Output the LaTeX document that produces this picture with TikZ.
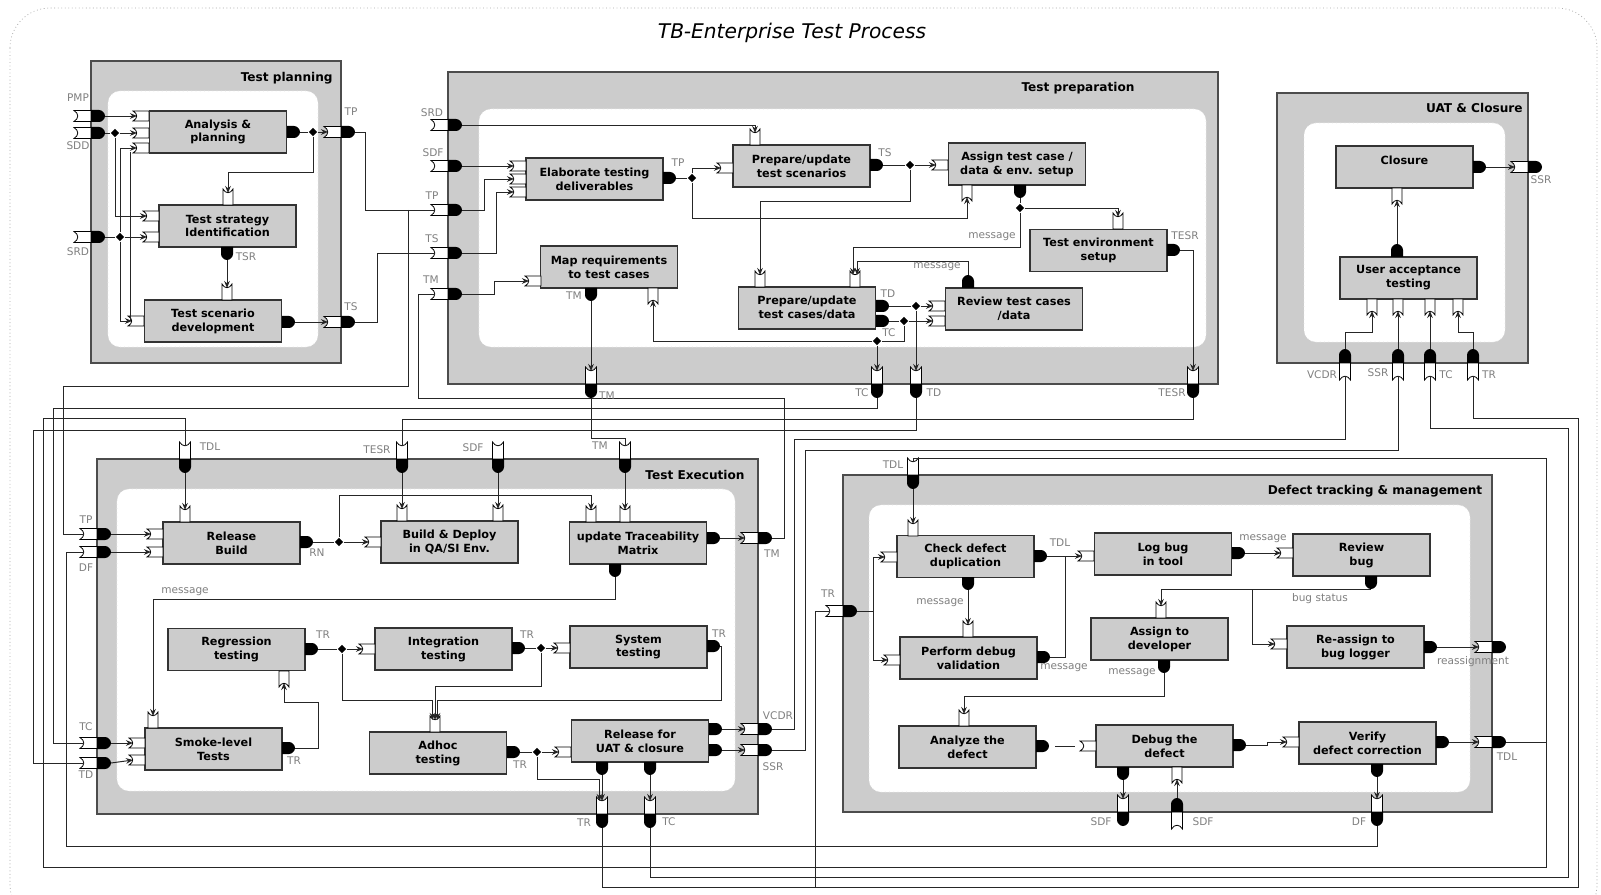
\documentclass[tikz,border=0pt]{standalone}
\usepackage{fontspec}
\setmainfont{DejaVu Sans}
\usepackage{xcolor}
\usepackage{tikz}
\usetikzlibrary{arrows.meta,shapes.geometric,calc}

\begin{document}
\begin{tikzpicture}[
  x=0.2mm, y=-0.2mm,
  box/.style={draw=black!80, line width=0.75pt, fill=black!20, align=center, minimum width=27.4mm, minimum height=8.4mm, inner sep=1pt, font=\fontsize{6.4}{7.9}\selectfont\bfseries},
  stage/.style={draw=black!70, line width=0.6pt, fill=black!20, inner sep=0pt, outer sep=0pt},
  pane/.style={draw=black!10, dotted, fill=white, rounded corners=2.4mm, inner sep=0pt, outer sep=0pt},
  stitle/.style={font=\fontsize{6.9}{8}\selectfont\bfseries, inner sep=0pt},
  lbl/.style={font=\fontsize{6}{7}\selectfont, text=black!50, inner sep=0pt},
  wire/.style={draw=black!85, line width=0.55pt},
  arrow/.style={wire, -{Stealth[length=4pt, width=3.2pt]}},
  dot/.style={diamond, fill=black, inner sep=0pt, minimum size=1.7mm},
  inport/.pic={
    \path[draw=black, fill=white, line width=0.45pt] (-16,-5) -- (0,-5) -- (0,5) -- (-16,5) .. controls (-11,2.5) and (-11,-2.5) .. (-16,-5) -- cycle;
    \coordinate (-tip) at (-12,0);
  },
  outport/.pic={
    \path[fill=black] (0,-6) -- (7,-6) .. controls (10,-6) and (13,-3) .. (13,0) .. controls (13,3) and (10,6) .. (7,6) -- (0,6) -- cycle;
    \coordinate (-end) at (13,0);
  },
  relay/.pic={
    \path[draw=black, fill=white, line width=0.45pt] (-17,-5.5) -- (0,-5.5) -- (0,5.5) -- (-17,5.5) .. controls (-12,2.5) and (-12,-2.5) .. (-17,-5.5) -- cycle;
    \path[fill=black] (0,-6) -- (8,-6) .. controls (11,-6) and (14,-3) .. (14,0) .. controls (14,3) and (11,6) .. (8,6) -- (0,6) -- cycle;
    \coordinate (-in) at (-13,0);
    \coordinate (-out) at (14,0);
  }
]
\useasboundingbox (0,0) rectangle (1601,895);

% Frame and title
\begin{scope}
  \clip (0,0) rectangle (1601,895);
  \draw[black!35, dash pattern=on 0.5pt off 1.5pt, rounded corners=8mm] (10,8) rectangle (1597,925);
\end{scope}
\node[font=\fontsize{11.5}{13}\selectfont\itshape] (title) at (792,33) {TB-Enterprise Test Process};

% Stages
\node[stage, minimum width=50mm, minimum height=60.4mm] (plan) at (216,212) {};
\node[pane, minimum width=42mm, minimum height=51.2mm] (planIn) at (213,219) {};
\node[stage, minimum width=154mm, minimum height=62.4mm] (prep) at (833,228) {};
\node[pane, minimum width=145.4mm, minimum height=47.6mm] (prepIn) at (842.5,228) {};
\node[stage, minimum width=50.2mm, minimum height=54mm] (uatS) at (1402.5,228) {};
\node[pane, minimum width=40.2mm, minimum height=43.8mm] (uatIn) at (1404.5,232.5) {};
\node[stage, minimum width=132.2mm, minimum height=71mm] (exec) at (427.5,636.5) {};
\node[pane, minimum width=123.6mm, minimum height=60.4mm] (execIn) at (426,640) {};
\node[stage, minimum width=129.8mm, minimum height=67.4mm] (defect) at (1167.5,643.5) {};
\node[pane, minimum width=120.2mm, minimum height=57.4mm] (defectIn) at (1169.5,648.5) {};

\node[stitle, anchor=east] (tPlan) at (333,78) {Test planning};
\node[stitle] (tPrep) at (1078,88) {Test preparation};
\node[stitle, anchor=east] (tUat) at (1523,108) {UAT \& Closure};
\node[stitle] (tExec) at (695,475) {Test Execution};
\node[stitle] (tDef) at (1375,491) {Defect tracking \& management};

% Activities
\node[box] (ap) at (218,132) {Analysis \&\\planning};
\node[box] (tsi) at (227.5,226) {Test strategy\\Identification};
\node[box] (tsd) at (213,321) {Test scenario\\development};

\node[box] (etd) at (594.5,179) {Elaborate testing\\deliverables};
\node[box] (mrt) at (609,267) {Map requirements\\to test cases};
\node[box] (pts) at (801.5,166) {Prepare/update\\test scenarios};
\node[box] (ptc) at (807,308) {Prepare/update\\test cases/data};
\node[box] (atc) at (1017,164) {Assign test case /\\data \& env. setup};
\node[box] (tes) at (1098.5,250.5) {Test environment\\setup};
\node[box] (rtc) at (1014,309) {Review test cases\\/data};

\node[box] (clo) at (1404.5,167) {Closure\\\mbox{}};
\node[box] (uat) at (1408.5,278) {User acceptance\\testing};

\node[box] (rb) at (231.5,543) {Release\\Build};
\node[box] (bd) at (449.5,542) {Build \& Deploy\\in QA/SI Env.};
\node[box] (utm) at (638,543) {update Traceability\\Matrix};
\node[box] (reg) at (236.5,649.5) {Regression\\testing};
\node[box] (int) at (443.5,649) {Integration\\testing};
\node[box] (sys) at (638.5,647) {System\\testing};
\node[box] (smk) at (213.5,749) {Smoke-level\\Tests};
\node[box] (adh) at (438,753) {Adhoc\\testing};
\node[box] (rfu) at (640,741) {Release for\\UAT \& closure};

\node[box] (cdd) at (965.5,556.5) {Check defect\\duplication};
\node[box] (pdv) at (968.5,658) {Perform debug\\validation};
\node[box] (lbt) at (1163,554) {Log bug\\in tool};
\node[box] (rvb) at (1361.5,555) {Review\\bug};
\node[box] (atd) at (1159.5,639) {Assign to\\developer};
\node[box] (rbl) at (1355.5,647) {Re-assign to\\bug logger};
\node[box] (aid) at (967.5,747) {Analyze the\\defect};
\node[box] (dbd) at (1164.5,746) {Debug the\\defect};
\node[box] (vdc) at (1367.5,743) {Verify\\defect correction};

% Ports: Test planning
\pic (rPMP) at (91,116) {relay};
\pic (rSDD) at (91,133) {relay};
\pic (rSRDa) at (91,237) {relay};
\pic (apI1) at (149,116) {inport};
\pic (apI2) at (149,133) {inport};
\pic (apI3) at (149,148) {inport};
\pic (apO) at (287,132) {outport};
\pic (rTPa) at (341,132) {relay};
\pic[rotate=-90] (tsiT) at (228,205) {inport};
\pic (tsiI1) at (159,216) {inport};
\pic (tsiI2) at (159,237) {inport};
\pic[rotate=-90] (tsiB) at (227,247) {outport};
\pic[rotate=-90] (tsdT) at (227,300) {inport};
\pic (tsdI) at (144,321) {inport};
\pic (tsdO) at (282,322) {outport};
\pic (rTSa) at (341,322) {relay};

% Ports: Test preparation
\pic (rSRDb) at (448,125) {relay};
\pic (rSDFb) at (448,166) {relay};
\pic (rTPb) at (448,210) {relay};
\pic (rTSb) at (448,253) {relay};
\pic (rTMb) at (448,294) {relay};
\pic (etdI1) at (526,166) {inport};
\pic (etdI2) at (526,179) {inport};
\pic (etdI3) at (526,192) {inport};
\pic (etdO) at (663,178) {outport};
\pic[rotate=-90] (ptsT) at (755,145) {inport};
\pic (ptsI) at (733,168) {inport};
\pic (ptsO) at (870,165) {outport};
\pic (atcI) at (948,165) {inport};
\pic[rotate=90] (atcB) at (967,185) {inport};
\pic[rotate=-90] (atcO) at (1020,185) {outport};
\pic[rotate=-90] (tesT) at (1118,229) {inport};
\pic (tesO) at (1167,250) {outport};
\pic (mrtI) at (541,281) {inport};
\pic[rotate=-90] (mrtO) at (591,288) {outport};
\pic[rotate=90] (mrtB) at (653,288) {inport};
\pic[rotate=-90] (ptcT1) at (760,287) {inport};
\pic[rotate=-90] (ptcT2) at (855,287) {inport};
\pic (ptcO1) at (876,306) {outport};
\pic (ptcO2) at (876,321) {outport};
\pic (rtcI1) at (945,306) {inport};
\pic (rtcI2) at (945,321) {inport};
\pic[rotate=90] (rtcO) at (968,288) {outport};
\pic[rotate=-90] (rTMc) at (591,384) {relay};
\pic[rotate=-90] (rTCc) at (877,384) {relay};
\pic[rotate=-90] (rTDc) at (916,384) {relay};
\pic[rotate=-90] (rTESRc) at (1193,384) {relay};

% Ports: UAT & Closure
\pic (cloO) at (1473,167) {outport};
\pic (rSSRd) at (1528,167) {relay};
\pic[rotate=90] (uatO) at (1397,257) {outport};
\pic[rotate=90] (cloB) at (1397,188) {inport};
\pic[rotate=90] (uatB1) at (1372,299) {inport};
\pic[rotate=90] (uatB2) at (1398,299) {inport};
\pic[rotate=90] (uatB3) at (1430,299) {inport};
\pic[rotate=90] (uatB4) at (1458,299) {inport};
\pic[rotate=90] (rVCDRd) at (1345,363) {relay};
\pic[rotate=90] (rSSRe) at (1398,363) {relay};
\pic[rotate=90] (rTCd) at (1430,363) {relay};
\pic[rotate=90] (rTRd) at (1473,363) {relay};

% Ports: Test Execution
\pic[rotate=-90] (rTDLe) at (185,459) {relay};
\pic[rotate=-90] (rTESRe) at (402,459) {relay};
\pic[rotate=-90] (rSDFe) at (498,459) {relay};
\pic[rotate=-90] (rTMe) at (625,459) {relay};
\pic (rTPe) at (97,534) {relay};
\pic (rDFe) at (97,552) {relay};
\pic (rTCe) at (97,743) {relay};
\pic (rTDe) at (97,763) {relay};
\pic[rotate=-90] (rbT) at (185,522) {inport};
\pic (rbI1) at (163,534) {inport};
\pic (rbI2) at (163,552) {inport};
\pic (rbO) at (300,542) {outport};
\pic (bdI) at (381,542) {inport};
\pic[rotate=-90] (bdT1) at (402,521) {inport};
\pic[rotate=-90] (bdT2) at (498,521) {inport};
\pic[rotate=-90] (utmT1) at (591,522) {inport};
\pic[rotate=-90] (utmT2) at (625,522) {inport};
\pic (utmO) at (707,538) {outport};
\pic[rotate=-90] (utmB) at (615,564) {outport};
\pic (rTMf) at (758,538) {relay};
\pic (regO) at (305,649) {outport};
\pic[rotate=90] (regB) at (284,671) {inport};
\pic (intI) at (375,649) {inport};
\pic (intO) at (512,648) {outport};
\pic (sysI) at (570,648) {inport};
\pic (sysO) at (707,646) {outport};
\pic[rotate=-90] (smkT) at (153,728) {inport};
\pic (smkI1) at (145,743) {inport};
\pic (smkI2) at (145,760) {inport};
\pic (smkO) at (282,748) {outport};
\pic[rotate=-90] (adhT) at (435,732) {inport};
\pic (adhO) at (507,752) {outport};
\pic (rfuI) at (571,752) {inport};
\pic (rfuO1) at (709,729) {outport};
\pic (rfuO2) at (709,750) {outport};
\pic[rotate=-90] (rfuB1) at (602,762) {outport};
\pic[rotate=-90] (rfuB2) at (650,762) {outport};
\pic (rVCDRf) at (758,729) {relay};
\pic (rSSRf) at (758,750) {relay};
\pic[rotate=-90] (rTRf) at (602,814) {relay};
\pic[rotate=-90] (rTCf) at (650,814) {relay};

% Ports: Defect tracking & management
\pic[rotate=-90] (rTDLg) at (913,475) {relay};
\pic[rotate=-90] (cddT) at (913,536) {inport};
\pic (cddI) at (897,557) {inport};
\pic (cddO) at (1034,556) {outport};
\pic[rotate=-90] (cddB) at (968,577) {outport};
\pic (rTRg) at (843,611) {relay};
\pic[rotate=-90] (pdvT) at (968,637) {inport};
\pic (pdvI) at (900,660) {inport};
\pic (pdvO) at (1037,657) {outport};
\pic (lbtI) at (1094,556) {inport};
\pic (lbtO) at (1232,553) {outport};
\pic (rvbI) at (1293,553) {inport};
\pic[rotate=-90] (rvbB) at (1371,576) {outport};
\pic[rotate=-90] (atdT) at (1161,618) {inport};
\pic[rotate=-90] (atdB) at (1164,660) {outport};
\pic (rblI) at (1287,644) {inport};
\pic (rblO) at (1424,647) {outport};
\pic (rREAg) at (1492,647) {relay};
\pic[rotate=-90] (aidT) at (964,726) {inport};
\pic (aidO) at (1036,746) {outport};
\pic (dbdI) at (1096,746) {inport};
\pic (dbdO) at (1233,745) {outport};
\pic[rotate=-90] (dbdB) at (1123,767) {outport};
\pic[rotate=90] (dbdB2) at (1177,767) {inport};
\pic (vdcI) at (1299,742) {inport};
\pic (vdcO) at (1436,742) {outport};
\pic[rotate=-90] (vdcB) at (1377,764) {outport};
\pic (rTDLh) at (1492,742) {relay};
\pic[rotate=-90] (rSDFg) at (1123,812) {relay};
\pic[rotate=90] (rSDFh) at (1177,812) {relay};
\pic[rotate=-90] (rDFg) at (1377,812) {relay};

% Junctions
\node[dot] (jSDD) at (115,133) {};
\node[dot] (jSRD) at (120,237) {};
\node[dot] (jTP) at (313,132) {};
\node[dot] (jETD) at (692,178) {};
\node[dot] (jPTS) at (910,165) {};
\node[dot] (jATC) at (1020,208) {};
\node[dot] (jTD) at (916,306) {};
\node[dot] (jTC) at (904,321) {};
\node[dot] (jTC2) at (877,341) {};
\node[dot] (jRN) at (339,542) {};
\node[dot] (jREG) at (342,649) {};
\node[dot] (jINT) at (541,648) {};
\node[dot] (jADH) at (537,752) {};
\coordinate (cSD) at (130,152);
\coordinate (cTP) at (408,210);
\coordinate (cTR) at (873,611);
\coordinate (cMsg) at (1065,556);
\coordinate (cBS) at (1252,589);
\coordinate (cTDL) at (1546,742);
\coordinate (cTRb) at (815,887);

% Connections: Test planning
\draw[arrow] (rPMP-out) -- (apI1-tip);
\draw[wire] (rSDD-out) -- (jSDD);
\draw[arrow] (jSDD) -- (apI2-tip);
\draw[arrow] (jSDD) |- (tsiI1-tip);
\draw[wire] (rSRDa-out) -- (jSRD);
\draw[arrow] (jSRD) -- (tsiI2-tip);
\draw[arrow] (jSRD) |- (apI3-tip);
\draw[arrow] (jSRD) |- (tsdI-tip);
\draw[wire] (cSD) -- (cSD |- tsdI-tip);
\draw[wire] (apO-end) -- (jTP);
\draw[arrow] (jTP) -- (rTPa-in);
\draw[arrow] (jTP) -- ++(0,40) -| (tsiT-tip);
\draw[arrow] (tsiB-end) -- (tsdT-tip);
\draw[arrow] (tsdO-end) -- (rTSa-in);

% Connections: Test preparation
\draw[arrow] (rSRDb-out) -| (ptsT-tip);
\draw[arrow] (rSDFb-out) -- (etdI1-tip);
\draw[arrow] (rTPb-out) -- ++(22,0) |- (etdI2-tip);
\draw[arrow] (rTSb-out) -- ++(34,0) |- (etdI3-tip);
\draw[arrow] (rTMb-out) -- ++(32,0) |- (mrtI-tip);
\draw[wire] (etdO-end) -- (jETD);
\draw[arrow] (jETD) |- (ptsI-tip);
\draw[arrow] (jETD) -- ++(0,40) -| (atcB-tip);
\draw[wire] (ptsO-end) -- (jPTS);
\draw[arrow] (jPTS) -- (atcI-tip);
\draw[arrow] (jPTS) -- ++(0,36) -| (ptcT1-tip);
\draw[wire] (atcO-end) -- (jATC);
\draw[arrow] (jATC) -| (tesT-tip);
\draw[arrow] (jATC) -- ++(0,39) -| ([xshift=-0.4mm]ptcT2-tip);
\draw[arrow] (rtcO-end) -- ++(0,-14) -| ([xshift=0.4mm]ptcT2-tip);
\draw[arrow] (tesO-end) -| (rTESRc-in);
\draw[arrow] (mrtO-end) -- (rTMc-in);
\draw[wire] (ptcO1-end) -- (jTD);
\draw[arrow] (jTD) -- (rtcI1-tip);
\draw[arrow] (jTD) -- (rTDc-in);
\draw[wire] (ptcO2-end) -- (jTC);
\draw[arrow] (jTC) -- (rtcI2-tip);
\draw[wire] (jTC) |- (jTC2);
\draw[arrow] (jTC2) -| (mrtB-tip);
\draw[arrow] (jTC2) -- (rTCc-in);

% Connections: UAT & Closure
\draw[arrow] (cloO-end) -- (rSSRd-in);
\draw[arrow] (uatO-end) -- (cloB-tip);
\draw[arrow] (rVCDRd-out) -- ++(0,-17) -| (uatB1-tip);
\draw[arrow] (rSSRe-out) -- (uatB2-tip);
\draw[arrow] (rTCd-out) -- (uatB3-tip);
\draw[arrow] (rTRd-out) -- ++(0,-17) -| (uatB4-tip);

% Connections: Test Execution
\draw[arrow] (rTDLe-out) -- (rbT-tip);
\draw[arrow] (rTESRe-out) -- (bdT1-tip);
\draw[arrow] (rSDFe-out) -- (bdT2-tip);
\draw[arrow] (rTMe-out) -- (utmT2-tip);
\draw[arrow] (rTPe-out) -- (rbI1-tip);
\draw[arrow] (rDFe-out) -- (rbI2-tip);
\draw[arrow] (rTCe-out) -- (smkI1-tip);
\draw[arrow] (rTDe-out) -- (smkI2-tip);
\draw[wire] (rbO-end) -- (jRN);
\draw[arrow] (jRN) -- (bdI-tip);
\draw[arrow] (jRN) -- ++(0,-47) -| (utmT1-tip);
\draw[arrow] (utmO-end) -- (rTMf-in);
\draw[arrow] (utmB-end) -- ++(0,22) -| (smkT-tip);
\draw[wire] (regO-end) -- (jREG);
\draw[arrow] (jREG) -- (intI-tip);
\draw[arrow] (jREG) -- ++(0,51) -| ([xshift=-0.5mm]adhT-tip);
\draw[wire] (intO-end) -- (jINT);
\draw[arrow] (jINT) -- (sysI-tip);
\draw[arrow] (jINT) -- ++(0,38) -| (adhT-tip);
\draw[arrow] (sysO-end) -| ++(1,54) -| ([xshift=0.5mm]adhT-tip);
\draw[arrow] (smkO-end) -| ++(23,-46) -| (regB-tip);
\draw[wire] (adhO-end) -- (jADH);
\draw[arrow] (jADH) -- (rfuI-tip);
\draw[arrow] (jADH) -- ++(0,27) -| ([xshift=-0.5mm]rTRf-in);
\draw[arrow] (rfuB1-end) -- (rTRf-in);
\draw[arrow] (rfuB2-end) -- (rTCf-in);
\draw[arrow] (rfuO1-end) -- (rVCDRf-in);
\draw[arrow] (rfuO2-end) -- (rSSRf-in);

% Connections: Defect tracking & management
\draw[arrow] (rTDLg-out) -- (cddT-tip);
\draw[wire] (rTRg-out) -- (cTR);
\draw[arrow] (cTR) |- (cddI-tip);
\draw[arrow] (cTR) |- (pdvI-tip);
\draw[arrow] (cddB-end) -- (pdvT-tip);
\draw[arrow] (cddO-end) -- (lbtI-tip);
\draw[wire] (pdvO-end) -| (cMsg);
\draw[arrow] (lbtO-end) -- (rvbI-tip);
\draw[arrow] (rvbB-end) -| (atdT-tip);
\draw[arrow] (cBS) |- (rblI-tip);
\draw[arrow] (rblO-end) -- (rREAg-in);
\draw[arrow] (atdB-end) -- ++(0,23) -| (aidT-tip);
\draw[wire, shorten <=1.2mm, shorten >=1.8mm] (aidO-end) -- (dbdI-tip);
\draw[arrow] (dbdO-end) -- ++(21,0) |- (vdcI-tip);
\draw[arrow] (dbdB-end) -- (rSDFg-in);
\draw[arrow] (rSDFh-out) -- (dbdB2-tip);
\draw[arrow] (vdcB-end) -- (rDFg-in);
\draw[arrow] (vdcO-end) -- (rTDLh-in);

% Links between stages
\draw[wire] (rTPa-out) -- ++(10,0) |- (rTPb-in);
\draw[wire] (cTP) |- (63,386) |- (rTPe-in);
\draw[wire] (rTSa-out) -- ++(22,0) |- (rTSb-in);
\draw[wire] (rTMf-out) -| (784,398) -| (418,294) -- (rTMb-in);
\draw[wire] (rTMc-out) -- ++(0,40) -| (rTMe-in);
\draw[wire] (rTCc-out) |- (53,408) |- (rTCe-in);
\draw[wire] (rTDc-out) |- (33,430) |- (rTDe-in);
\draw[wire] (rTESRc-out) |- (402,419) -- (rTESRe-in);
\draw[wire] (rTDLh-out) -- (cTDL) |- (43,867) |- (185,418) -- (rTDLe-in);
\draw[wire] (cTDL) |- (913,458) -- (rTDLg-in);
\draw[wire] (rDFg-out) |- (66,846) |- (rDFe-in);
\draw[wire] (rTRf-out) |- (1578,887) |- (1473,418) -- (rTRd-in);
\draw[wire] (cTRb) |- (rTRg-in);
\draw[wire] (rTCf-out) |- (1568,877) |- (1430,428) -- (rTCd-in);
\draw[wire] (rVCDRf-out) -| (794,439) -| (rVCDRd-in);
\draw[wire] (rSSRf-out) -| (805,450) -| (rSSRe-in);

% Labels: Test planning
\node[lbl] (lPMP) at (78,98) {PMP};
\node[lbl] (lSDD) at (78,146) {SDD};
\node[lbl] (lSRDa) at (78,252) {SRD};
\node[lbl] (lTPa) at (351,112) {TP};
\node[lbl] (lTSR) at (246,257) {TSR};
\node[lbl] (lTSa) at (351,307) {TS};

% Labels: Test preparation
\node[lbl] (lSRDb) at (432,113) {SRD};
\node[lbl] (lSDFb) at (433,153) {SDF};
\node[lbl] (lTPb) at (432,196) {TP};
\node[lbl] (lTSb) at (432,239) {TS};
\node[lbl] (lTMb) at (431,280) {TM};
\node[lbl] (lTPc) at (678,163) {TP};
\node[lbl] (lTSc) at (885,153) {TS};
\node[lbl] (lMsgA) at (992,237) {message};
\node[lbl] (lTESRa) at (1185,236) {TESR};
\node[lbl] (lMsgB) at (937,267) {message};
\node[lbl] (lTDa) at (888,294) {TD};
\node[lbl] (lTCa) at (889,333) {TC};
\node[lbl] (lTMc) at (574,296) {TM};
\node[lbl] (lTMd) at (607,396) {TM};
\node[lbl] (lTCb) at (862,393) {TC};
\node[lbl] (lTDb) at (934,393) {TD};
\node[lbl] (lTESRb) at (1172,393) {TESR};

% Labels: UAT & Closure
\node[lbl] (lSSRa) at (1541,180) {SSR};
\node[lbl] (lVCDRa) at (1322,375) {VCDR};
\node[lbl] (lSSRb) at (1378,373) {SSR};
\node[lbl] (lTCc) at (1446,375) {TC};
\node[lbl] (lTRa) at (1489,375) {TR};

% Labels: Test Execution
\node[lbl] (lTDLa) at (210,447) {TDL};
\node[lbl] (lTESRc) at (377,450) {TESR};
\node[lbl] (lSDFc) at (473,448) {SDF};
\node[lbl] (lTMe) at (600,446) {TM};
\node[lbl] (lTPe) at (86,520) {TP};
\node[lbl] (lDFa) at (86,568) {DF};
\node[lbl] (lTCe) at (86,727) {TC};
\node[lbl] (lTDe) at (86,775) {TD};
\node[lbl] (lRN) at (317,553) {RN};
\node[lbl] (lTMf) at (772,554) {TM};
\node[lbl] (lMsgC) at (185,592) {message};
\node[lbl] (lTRb) at (323,635) {TR};
\node[lbl] (lTRc) at (527,635) {TR};
\node[lbl] (lTRd) at (719,634) {TR};
\node[lbl] (lTRe) at (294,761) {TR};
\node[lbl] (lTRf) at (520,765) {TR};
\node[lbl] (lVCDRb) at (778,716) {VCDR};
\node[lbl] (lSSRc) at (773,767) {SSR};
\node[lbl] (lTRg) at (584,823) {TR};
\node[lbl] (lTCf) at (669,822) {TC};

% Labels: Defect tracking & management
\node[lbl] (lTDLb) at (893,465) {TDL};
\node[lbl] (lTRh) at (828,594) {TR};
\node[lbl] (lMsgD) at (940,603) {message};
\node[lbl] (lTDLc) at (1060,543) {TDL};
\node[lbl] (lMsgE) at (1064,668) {message};
\node[lbl] (lMsgF) at (1132,673) {message};
\node[lbl] (lMsgG) at (1263,539) {message};
\node[lbl] (lBug) at (1320,599) {bug status};
\node[lbl] (lRea) at (1473,662) {reassignment};
\node[lbl] (lTDLd) at (1507,757) {TDL};
\node[lbl] (lSDFd) at (1101,822) {SDF};
\node[lbl] (lSDFe) at (1203,822) {SDF};
\node[lbl] (lDFb) at (1359,822) {DF};

\end{tikzpicture}
\end{document}
